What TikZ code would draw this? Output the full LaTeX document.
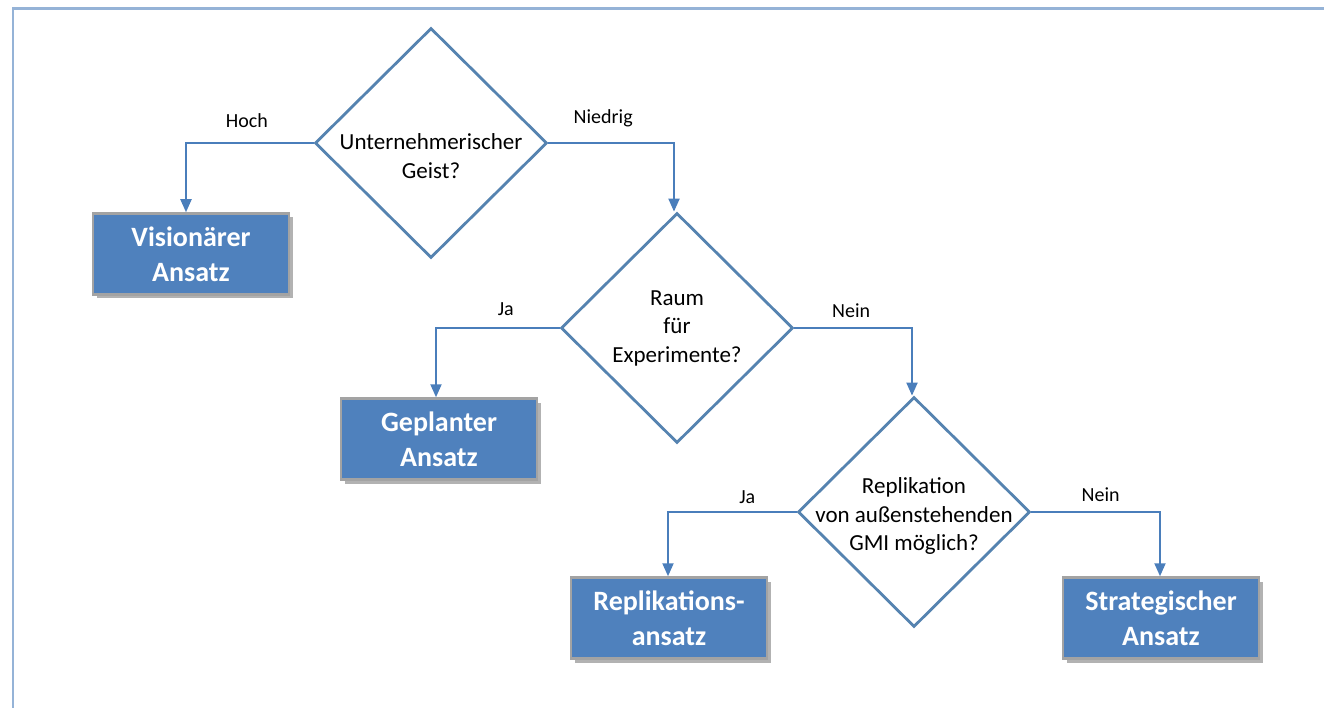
\documentclass[tikz,border=0pt]{standalone}
\usepackage{fontspec}
\setmainfont{Carlito}
\usetikzlibrary{shapes.geometric,arrows.meta,shadows}
\definecolor{boxblue}{HTML}{4F81BD}
\definecolor{diaedge}{HTML}{5583B0}
\definecolor{arrowblue}{HTML}{4A7EBB}
\definecolor{framec}{HTML}{95B3D7}
\definecolor{boxedge}{HTML}{A3A3A3}
\tikzset{
  decision/.style={diamond, aspect=1, draw=diaedge, line width=2.8pt, fill=white, inner sep=0pt,
    minimum width=232pt, minimum height=230pt},
  dtext/.style={align=center, inner sep=0pt, font=\fontsize{23}{28.5}\selectfont},
  outcome/.style={rectangle, draw=boxedge, line width=2.5pt, fill=boxblue, text=white, inner sep=0pt,
    minimum width=196pt, minimum height=81pt, align=center, font=\fontsize{28}{35}\selectfont\bfseries,
    drop shadow={shadow xshift=4pt, shadow yshift=-4pt, opacity=0.3, fill=black}},
  conn/.style={draw=arrowblue, line width=2pt, -{Triangle[width=11pt,length=13pt]}},
  lbl/.style={font=\fontsize{20}{23}\selectfont, inner sep=0pt}
}
\begin{document}
\begin{tikzpicture}[x=1pt,y=-1pt]
\useasboundingbox (0,0) rectangle (1324,708);
\fill[white] (0,0) rectangle (1324,708);
\draw[framec, line width=2.5pt] (13,708) -- (13,8.5) -- (1324,8.5);

\node[decision, label={[dtext, yshift=-13pt]center:{Unternehmerischer\\Geist?}}] (d1) at (431,143) {};
\node[decision, label={[dtext]center:{Raum\\für\\Experimente?}}] (d2) at (677,328) {};
\node[decision, label={[dtext, yshift=-4pt]center:{Replikation\\von außenstehenden\\GMI möglich?}}] (d3) at (914,512) {};

\node[outcome] (b1) at (191,254) {Visionärer\\Ansatz};
\node[outcome] (b2) at (439,439) {Geplanter\\Ansatz};
\node[outcome] (b3) at (669,618) {Replikations-\\ansatz};
\node[outcome] (b4) at (1161,618) {Strategischer\\Ansatz};

\draw[conn] (d1.west) -| ([xshift=-5pt]b1.north) node[lbl, pos=0.25, yshift=22pt, xshift=-3pt] {Hoch};
\draw[conn] (d1.east) -| ([xshift=-3pt]d2.north) node[lbl, pos=0.25, yshift=25pt, xshift=-8pt] {Niedrig};
\draw[conn] (d2.west) -| ([xshift=-3pt]b2.north) node[lbl, pos=0.25, yshift=19pt, xshift=8pt] {Ja};
\draw[conn] (d2.east) -| ([xshift=-2pt]d3.north) node[lbl, pos=0.25, yshift=17pt, xshift=-2pt] {Nein};
\draw[conn] (d3.west) -| ([xshift=-1pt]b3.north) node[lbl, pos=0.25, yshift=15pt, xshift=15pt] {Ja};
\draw[conn] (d3.east) -| ([xshift=-1pt]b4.north) node[lbl, pos=0.25, yshift=17pt, xshift=5pt] {Nein};
\end{tikzpicture}
\end{document}
